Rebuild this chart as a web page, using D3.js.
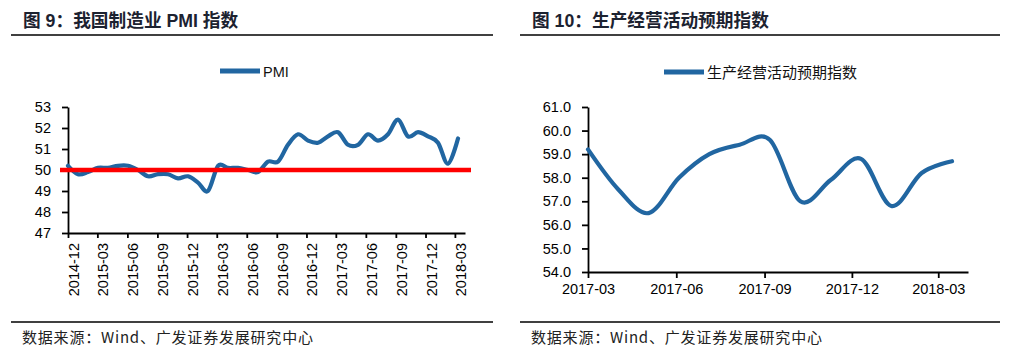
<!DOCTYPE html>
<html><head><meta charset="utf-8">
<script src="https://cdn.jsdelivr.net/npm/d3@7"></script>
<style>
html,body{margin:0;padding:0;background:#fff;}
svg{display:block;font-family:"Liberation Sans",Arial,"Noto Sans CJK SC",sans-serif;}
</style></head>
<body>
<svg id="c" width="1014" height="356"></svg>
<script>
// ---- data ----
const pmiMonths = ["2014-12","2015-01","2015-02","2015-03","2015-04","2015-05","2015-06","2015-07","2015-08","2015-09","2015-10","2015-11","2015-12",
  "2016-01","2016-02","2016-03","2016-04","2016-05","2016-06","2016-07","2016-08","2016-09","2016-10","2016-11","2016-12",
  "2017-01","2017-02","2017-03","2017-04","2017-05","2017-06","2017-07","2017-08","2017-09","2017-10","2017-11","2017-12",
  "2018-01","2018-02","2018-03"];
const pmiValues = [50.2,49.8,49.9,50.1,50.1,50.2,50.2,50.0,49.7,49.8,49.8,49.6,49.7,
  49.4,49.0,50.2,50.1,50.1,50.0,49.9,50.4,50.4,51.2,51.7,51.4,
  51.3,51.6,51.8,51.2,51.2,51.7,51.4,51.7,52.4,51.6,51.8,51.6,
  51.3,50.3,51.5];
const pmiRefLevel = 50;
const pmiYTicks = [47,48,49,50,51,52,53];
const pmiXTicks = ["2014-12","2015-03","2015-06","2015-09","2015-12","2016-03","2016-06","2016-09","2016-12","2017-03","2017-06","2017-09","2017-12","2018-03"];

const expMonths = ["2017-03","2017-04","2017-05","2017-06","2017-07","2017-08","2017-09","2017-10","2017-11","2017-12","2018-01","2018-02","2018-03"];
const expValues = [59.2,57.5,56.5,58.0,59.0,59.4,59.6,57.0,57.9,58.8,56.8,58.2,58.7];
const expYTicks = [54,55,56,57,58,59,60,61];
const expXTicks = ["2017-03","2017-06","2017-09","2017-12","2018-03"];

const titleLeft = "图 9：我国制造业 PMI 指数";
const titleRight = "图 10：生产经营活动预期指数";
const legendLeft = "PMI";
const legendRight = "生产经营活动预期指数";
const sourceText = "数据来源：Wind、广发证券发展研究中心";

// ---- drawing ----
const svg = d3.select("#c");
const BLUE = "#2166a1";
const parse = d3.timeParse("%Y-%m");
const fmtM = d3.timeFormat("%Y-%m");
const cjk = '"Noto Sans CJK SC","Liberation Sans",sans-serif';

function panel(opt){
  const g = svg.append("g");
  // title
  g.append("text").attr("x", opt.titleX).attr("y", 27)
    .attr("font-size", 17.7).attr("font-weight", "bold").attr("fill", "#1c2230")
    .style("font-family", '"Liberation Sans","Noto Sans CJK SC",sans-serif')
    .text(opt.title);
  g.append("line").attr("x1", opt.ruleX0).attr("x2", opt.ruleX1).attr("y1", 35).attr("y2", 35)
    .attr("stroke", "#000").attr("stroke-width", 1.5);
  g.append("line").attr("x1", opt.ruleX0).attr("x2", opt.ruleX1).attr("y1", 322).attr("y2", 322)
    .attr("stroke", "#000").attr("stroke-width", 1.5);
  g.append("text").attr("x", opt.srcX).attr("y", 343).attr("font-size", 15).attr("fill", "#222")
    .attr("letter-spacing", 0.8)
    .style("font-family", cjk).text(sourceText);
  // legend
  g.append("line").attr("x1", opt.legX).attr("x2", opt.legX + 40).attr("y1", opt.legY).attr("y2", opt.legY)
    .attr("stroke", BLUE).attr("stroke-width", 5);
  g.append("text").attr("x", opt.legX + 43).attr("y", opt.legY + 5.5).attr("font-size", opt.legFont).attr("fill", "#111")
    .style("font-family", opt.legCjk ? cjk : null).text(opt.legend);

  // scales
  const y = d3.scaleLinear().domain(opt.yDomain).range([opt.yBottom, opt.yTop]);
  const xAxisScale = d3.scaleTime().domain(opt.xDomain).range([opt.x0, opt.xEnd]);
  const xData = d3.scalePoint().domain(opt.months).range([opt.x0, opt.xLast]);

  // y axis
  const ya = g.append("g").attr("transform", `translate(${opt.x0},0)`)
    .call(d3.axisLeft(y).tickValues(opt.yTicks).tickSize(6).tickSizeOuter(0).tickPadding(11)
      .tickFormat(opt.yFmt));
  // x axis
  const xa = g.append("g").attr("transform", `translate(0,${opt.yBottom})`)
    .call(d3.axisBottom(xAxisScale).tickValues(opt.xTicks.map(parse)).tickSize(opt.xTickSize).tickSizeOuter(0)
      .tickFormat(fmtM).tickPadding(5.5));
  [ya, xa].forEach(a => {
    a.select(".domain").attr("stroke", "#000").attr("stroke-width", 1.8);
    a.selectAll(".tick line").attr("stroke", "#000").attr("stroke-width", 1.8);
    a.selectAll("text").attr("font-size", 14.5).attr("fill", "#000")
      .style("font-family", '"Liberation Sans",Arial,sans-serif');
  });
  if (opt.rotate) {
    xa.selectAll(".tick text").attr("transform", "rotate(-90)")
      .attr("text-anchor", "end").attr("x", -10).attr("y", 10.5).attr("dy", 0);
  }
  // line
  const line = d3.line().x((d, i) => xData(opt.months[i])).y(d => y(d)).curve(d3.curveCatmullRom.alpha(0));
  g.append("path").datum(opt.values).attr("d", line).attr("fill", "none")
    .attr("stroke", BLUE).attr("stroke-width", 4.2).attr("stroke-linecap", "round").attr("stroke-linejoin", "round");
  return {g, y};
}

const L = panel({
  title: titleLeft, titleX: 23, ruleX0: 11, ruleX1: 493, srcX: 22,
  legX: 220, legY: 71, legend: legendLeft, legFont: 14.5, legCjk: false,
  yDomain: [47, 53], yTicks: pmiYTicks, yTop: 107, yBottom: 233, yFmt: d3.format("d"),
  xDomain: [parse("2014-12"), parse("2018-04")], x0: 68, xEnd: 465, xLast: 458, xTicks: pmiXTicks,
  months: pmiMonths, values: pmiValues, xTickSize: 5, rotate: true
});
// reference line at 50
L.g.append("line").attr("x1", 60).attr("x2", 471)
  .attr("y1", L.y(pmiRefLevel)).attr("y2", L.y(pmiRefLevel))
  .attr("stroke", "#ff0000").attr("stroke-width", 4.5);

panel({
  title: titleRight, titleX: 532, ruleX0: 520, ruleX1: 1000, srcX: 531,
  legX: 664, legY: 72, legend: legendRight, legFont: 15, legCjk: true,
  yDomain: [54, 61], yTicks: expYTicks, yTop: 107, yBottom: 272, yFmt: d3.format(".1f"),
  xDomain: [parse("2017-03"), parse("2018-04")], x0: 588, xEnd: 968, xLast: 952, xTicks: expXTicks,
  months: expMonths, values: expValues, xTickSize: 6, rotate: false
});
</script>
</body></html>
